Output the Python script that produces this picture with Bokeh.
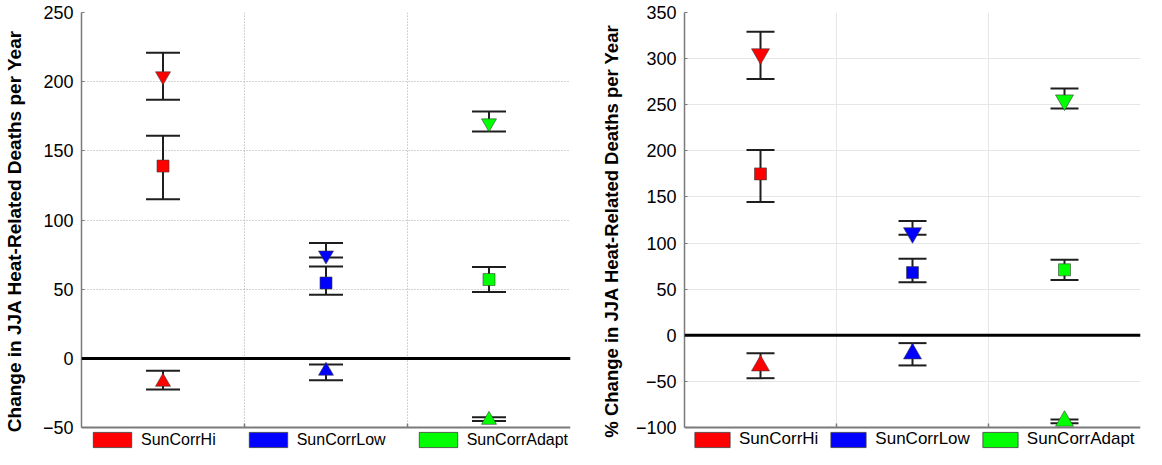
from bokeh.plotting import figure
from bokeh.models import (ColumnDataSource, Whisker, TeeHead, Span, Legend,
                          LegendItem, FixedTicker)
from bokeh.layouts import row
from bokeh.embed import file_html
from bokeh.resources import INLINE

# ---------------- data ----------------
categories = ["SunCorrHi", "SunCorrLow", "SunCorrAdapt"]
x_pos = [1, 2, 3]

# Left panel: change in JJA heat-related deaths per year
abs_upper = [204, 74.5, 170]
abs_upper_lo = [187, 73, 164]
abs_upper_hi = [221, 83.5, 178.5]
abs_mid = [139, 54.5, 57]
abs_mid_lo = [115, 46, 48]
abs_mid_hi = [161, 66.5, 66]
abs_lower = [-17, -9, -44.5]
abs_lower_lo = [-22.5, -15.8, -45.2]
abs_lower_hi = [-9, -4.4, -42.5]
abs_yticks = [-50, 0, 50, 100, 150, 200, 250]

# Right panel: % change in JJA heat-related deaths per year
pct_upper = [305, 111, 255]
pct_upper_lo = [278, 109, 246]
pct_upper_hi = [329, 124, 267.5]
pct_mid = [175, 68, 71]
pct_mid_lo = [144.5, 57.5, 60]
pct_mid_hi = [201, 83, 82]
pct_lower = [-33, -20, -93]
pct_lower_lo = [-46.5, -32.7, -95.5]
pct_lower_hi = [-19.5, -8.5, -91.4]
pct_yticks = [-100, -50, 0, 50, 100, 150, 200, 250, 300, 350]

colors = ["#ff0000", "#0000ff", "#00ff00"]
FONT = "Liberation Sans"
FIG_H = 449
LEGEND_SPACE = 22  # px reserved under the axes for the legend row
NAN = float("nan")


def make_panel(ylabel, yticks, series, width, top, right_border, label_size,
               tri_size, cap, grid_style, label_standoff, legend_font,
               legend_glyph_w, legend_spacing, legend_x):
    frame_h = FIG_H - top
    axis_h = frame_h - LEGEND_SPACE
    span = yticks[-1] - yticks[0]
    ystart = yticks[0] - span * LEGEND_SPACE / axis_h
    p = figure(x_range=(0.5, 3.5), y_range=(ystart, yticks[-1]),
               width=width, height=FIG_H,
               min_border_top=top, min_border_bottom=0,
               min_border_left=0, min_border_right=right_border,
               output_backend="svg", toolbar_location=None,
               background_fill_color="white", border_fill_color="white")
    p.outline_line_color = None

    # y axis
    p.yaxis.ticker = FixedTicker(ticks=yticks)
    p.yaxis.bounds = (yticks[0], yticks[-1])
    p.yaxis.axis_label = ylabel
    p.yaxis.axis_label_text_font = FONT
    p.yaxis.axis_label_text_font_style = "bold"
    p.yaxis.axis_label_text_font_size = label_size
    p.yaxis.axis_label_text_color = "black"
    p.yaxis.axis_label_standoff = label_standoff
    p.yaxis.major_label_text_font = FONT
    p.yaxis.major_label_text_font_size = "18px"
    p.yaxis.major_label_text_color = "black"
    p.yaxis.major_label_standoff = 8
    p.yaxis.major_tick_in = 3
    p.yaxis.major_tick_out = 0
    p.yaxis.minor_tick_line_color = None
    p.yaxis.axis_line_color = "#7a7a7a"
    p.yaxis.axis_line_width = 1.5
    p.yaxis.major_tick_line_color = "#7a7a7a"

    p.xaxis.visible = False
    p.xgrid.visible = False
    p.ygrid.ticker = FixedTicker(ticks=yticks)
    p.ygrid.grid_line_color = grid_style[0]
    p.ygrid.grid_line_dash = grid_style[1]
    p.ygrid.grid_line_width = 1

    # category separators (vertical grid lines between the groups)
    seps = [x + 0.5 for x in x_pos[:-1]]
    p.segment(x0=seps, x1=seps, y0=[yticks[0]] * len(seps),
              y1=[yticks[-1]] * len(seps), line_color=grid_style[0],
              line_dash=grid_style[1], line_width=1)
    # small inward ticks at the separators on the bottom axis
    p.segment(x0=seps, x1=seps, y0=[yticks[0]] * len(seps),
              y1=[yticks[0] + span * 4 / axis_h] * len(seps),
              line_color="#7a7a7a", line_width=1.5)

    # bottom axis line and zero line
    p.add_layout(Span(location=yticks[0], dimension="width",
                      line_color="#7a7a7a", line_width=2))
    p.add_layout(Span(location=0, dimension="width", line_color="black",
                      line_width=3))

    # error bars + markers
    for (vals, lo, hi, marker, size) in series:
        src = ColumnDataSource(dict(x=x_pos, y=vals, lo=lo, hi=hi, c=colors))
        w = Whisker(source=src, base="x", upper="hi", lower="lo",
                    dimension="height", line_color="#1e1e1e", line_width=2,
                    upper_head=TeeHead(size=cap, line_color="#1e1e1e",
                                       line_width=2),
                    lower_head=TeeHead(size=cap, line_color="#1e1e1e",
                                       line_width=2))
        p.add_layout(w)
        s = tri_size if "triangle" in marker else size
        p.scatter("x", "y", source=src, marker=marker, size=s,
                  fill_color="c", line_color="#3a3a3a", line_width=0.6)

    # legend (colour patches) in the row under the axes
    items = []
    for cat, c in zip(categories, colors):
        r = p.quad(left=[NAN], right=[NAN], top=[NAN], bottom=[NAN],
                   fill_color=c, line_color="#3a3a3a", line_width=0.8)
        items.append(LegendItem(label=cat, renderers=[r]))
    leg = Legend(items=items, orientation="horizontal",
                 location=(legend_x, 0),
                 glyph_width=legend_glyph_w, glyph_height=19,
                 label_text_font=FONT, label_text_font_size=legend_font,
                 label_text_color="black", label_standoff=5,
                 label_height=19,
                 spacing=legend_spacing, padding=0, margin=0,
                 border_line_color=None, background_fill_alpha=0)
    p.add_layout(leg)
    return p


left_series = [
    (abs_upper, abs_upper_lo, abs_upper_hi, "inverted_triangle", 15),
    (abs_mid, abs_mid_lo, abs_mid_hi, "square", 12),
    (abs_lower, abs_lower_lo, abs_lower_hi, "triangle", 15),
]
right_series = [
    (pct_upper, pct_upper_lo, pct_upper_hi, "inverted_triangle", 18),
    (pct_mid, pct_mid_lo, pct_mid_hi, "square", 12),
    (pct_lower, pct_lower_lo, pct_lower_hi, "triangle", 18),
]

p1 = make_panel("Change in JJA Heat-Related Deaths per Year", abs_yticks,
                left_series, 597, 10, 27, "19px", 15, 34,
                ("#a8a8a8", "1 2"), 15, "16px", 48, 28, 7)
p2 = make_panel("% Change in JJA Heat-Related Deaths per Year", pct_yticks,
                right_series, 545, 12, 2, "18.5px", 18, 28,
                ("#e6e6e6", "solid"), 11, "17px", 44, 8, 6)

layout = row(p1, p2)
open("out.html", "w").write(file_html(layout, INLINE))
